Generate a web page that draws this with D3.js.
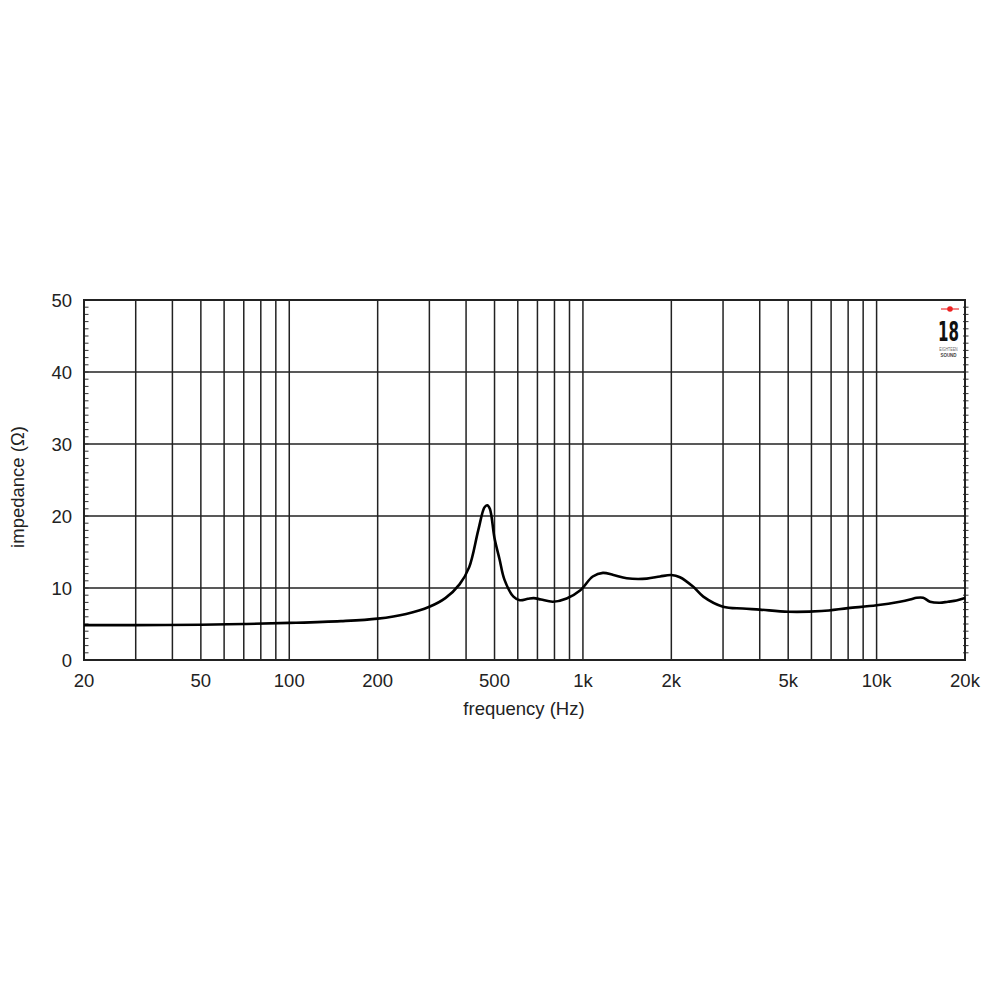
<!DOCTYPE html>
<html>
<head>
<meta charset="utf-8">
<script src="https://cdn.jsdelivr.net/npm/d3@7"></script>
<style>
html,body{margin:0;padding:0;background:#fff;}
svg{display:block;}
</style>
</head>
<body>
<svg id="chart" width="1000" height="1000"></svg>
<script>
const freqs = [20, 30, 50, 70, 100, 150, 200, 250, 300, 340, 380, 410, 440, 462, 472, 482, 500, 520, 540, 580, 610, 650, 680, 720, 790, 880, 980, 1080, 1170, 1270, 1410, 1650, 1830, 2000, 2140, 2370, 2570, 3000, 3500, 4000, 5000, 6500, 8000, 10000, 12000, 13000, 13700, 14400, 15200, 16400, 17500, 18700, 20000];
const impedance = [4.85, 4.85, 4.9, 5.0, 5.15, 5.4, 5.75, 6.4, 7.4, 8.6, 10.5, 12.9, 18.0, 21.2, 21.5, 21.0, 16.9, 14.0, 11.2, 8.8, 8.3, 8.5, 8.6, 8.4, 8.1, 8.55, 9.7, 11.6, 12.1, 11.8, 11.35, 11.3, 11.6, 11.8, 11.5, 10.2, 8.8, 7.4, 7.15, 7.0, 6.7, 6.8, 7.2, 7.6, 8.1, 8.4, 8.65, 8.65, 8.1, 7.95, 8.1, 8.25, 8.6];
const xTickValues = [20, 50, 100, 200, 500, 1000, 2000, 5000, 10000, 20000];
const xTickLabels = ["20", "50", "100", "200", "500", "1k", "2k", "5k", "10k", "20k"];
const xGridValues = [30,40,50,60,70,80,90,100,200,300,400,500,600,700,800,900,1000,2000,3000,4000,5000,6000,7000,8000,9000,10000];
const yTickValues = [0, 10, 20, 30, 40, 50];
const yGridValues = [10, 20, 30, 40];
const yMinorValues = d3.range(1, 50);

const L = 84, R = 965, T = 300, B = 660;
const svg = d3.select("#chart");
const x = d3.scaleLog().domain([20, 20000]).range([L, R]);
const y = d3.scaleLinear().domain([0, 50]).range([B, T]);

const font = "'Liberation Sans', Arial, Helvetica, sans-serif";
const ink = "#222";

// grid
const g = svg.append("g");
g.selectAll("line.vx").data(xGridValues).enter().append("line")
  .attr("x1", d => x(d)).attr("x2", d => x(d)).attr("y1", T).attr("y2", B)
  .attr("stroke", ink).attr("stroke-width", 1.5);
g.selectAll("line.hy").data(yGridValues).enter().append("line")
  .attr("x1", L).attr("x2", R).attr("y1", d => y(d)).attr("y2", d => y(d))
  .attr("stroke", ink).attr("stroke-width", 1.5);

// minor ticks left (inside) and right
g.selectAll("line.ml").data(yMinorValues).enter().append("line")
  .attr("x1", L).attr("x2", L + 4.5).attr("y1", d => y(d)).attr("y2", d => y(d))
  .attr("stroke", "#333").attr("stroke-width", 1);
g.selectAll("line.mr").data(yMinorValues).enter().append("line")
  .attr("x1", R - 2).attr("x2", R + 3.5).attr("y1", d => y(d)).attr("y2", d => y(d))
  .attr("stroke", "#333").attr("stroke-width", 1);

// frame
svg.append("rect").attr("x", L).attr("y", T).attr("width", R - L).attr("height", B - T)
  .attr("fill", "none").attr("stroke", ink).attr("stroke-width", 2);

// tick labels
svg.append("g").selectAll("text").data(xTickValues).enter().append("text")
  .attr("x", d => x(d)).attr("y", 687)
  .attr("text-anchor", "middle").attr("font-family", font).attr("font-size", 18.5).attr("fill", ink)
  .text((d, i) => xTickLabels[i]);
svg.append("g").selectAll("text").data(yTickValues).enter().append("text")
  .attr("x", 72).attr("y", d => y(d) + 7)
  .attr("text-anchor", "end").attr("font-family", font).attr("font-size", 18.5).attr("fill", ink)
  .text(d => d);

// axis titles
svg.append("text").attr("x", 524).attr("y", 715).attr("text-anchor", "middle")
  .attr("font-family", font).attr("font-size", 18.5).attr("fill", ink).text("frequency (Hz)");
svg.append("text").attr("transform", "translate(24,487) rotate(-90)").attr("text-anchor", "middle")
  .attr("font-family", font).attr("font-size", 18.5).attr("fill", ink).text("impedance (Ω)");

// curve
const data = freqs.map((f, i) => [f, impedance[i]]);
svg.append("path").datum(data)
  .attr("d", d3.line().x(d => x(d[0])).y(d => y(d[1])).curve(d3.curveCatmullRom.alpha(0.5)))
  .attr("fill", "none").attr("stroke", "#000").attr("stroke-width", 2.6).attr("stroke-linejoin", "round");

// logo
const logo = svg.append("g");
logo.append("line").attr("x1", 941).attr("x2", 959).attr("y1", 309).attr("y2", 309).attr("stroke", "#e33").attr("stroke-width", 1.2);
logo.append("circle").attr("cx", 950).attr("cy", 309).attr("r", 2.8).attr("fill", "#e22");
logo.append("text").attr("text-anchor", "middle")
  .attr("font-family", "'DejaVu Sans Condensed', 'Liberation Sans Narrow', sans-serif").attr("font-weight", "bold")
  .attr("font-size", 27).attr("fill", "#111")
  .attr("transform", "translate(948.5,341) scale(0.62,1)").text("18");
logo.append("text").attr("text-anchor", "middle")
  .attr("font-family", font).attr("font-size", 4.5).attr("fill", "#666")
  .attr("transform", "translate(948.5,351) scale(0.8,1)").text("EIGHTEEN");
logo.append("text").attr("text-anchor", "middle")
  .attr("font-family", font).attr("font-weight", "bold").attr("font-size", 5).attr("fill", "#444")
  .attr("transform", "translate(948.5,357) scale(0.9,1)").text("SOUND");
</script>
</body>
</html>
